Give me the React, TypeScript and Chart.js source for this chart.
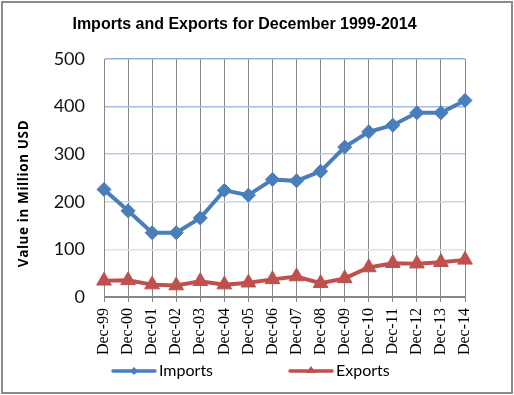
import React, { useEffect, useRef } from "react";
import { Chart, registerables } from "chart.js";

Chart.register(...registerables);

const categories = [
  "Dec-99", "Dec-00", "Dec-01", "Dec-02", "Dec-03", "Dec-04", "Dec-05", "Dec-06",
  "Dec-07", "Dec-08", "Dec-09", "Dec-10", "Dec-11", "Dec-12", "Dec-13", "Dec-14",
];
const importsValues = [226, 181, 135, 135, 166, 224, 214, 247, 244, 264, 315, 347, 361, 387, 387, 413];
const exportsValues = [34, 35, 26, 24, 33, 26, 30, 37, 43, 29, 39, 62, 71, 70, 73, 78];
const seriesNames = ["Imports", "Exports"];
const yMin = 0;
const yMax = 500;
const yStep = 100;
const chartTitle = "Imports and Exports for December 1999-2014";
const yAxisTitle = "Value in Million USD";

const IMPORT_COLOR = "#4a7ebb";
const EXPORT_COLOR = "#c0504d";
const GRID_GRAY = "#868686";

const gridBlue: Record<number, string> = {
  0: GRID_GRAY,
  100: "#d9e3f1",
  200: "#c6d6ec",
  300: "#b5c9e7",
  400: "#a3bce2",
  500: "#94b1dc",
};

const decorPlugin = {
  id: "decor",
  beforeDraw(chart: any) {
    const ctx = chart.ctx;
    ctx.save();
    ctx.fillStyle = "#ffffff";
    ctx.fillRect(0, 0, chart.width, chart.height);
    ctx.restore();
  },
  afterDraw(chart: any) {
    const ctx = chart.ctx;
    ctx.save();
    // outer border
    ctx.strokeStyle = "#8a8a8a";
    ctx.lineWidth = 2;
    ctx.strokeRect(2, 2, chart.width - 4, chart.height - 4);

    // chart title
    ctx.fillStyle = "#000000";
    ctx.font = "bold 16px 'Liberation Sans', Arial, sans-serif";
    ctx.textAlign = "center";
    ctx.textBaseline = "middle";
    ctx.fillText(chartTitle, 244.5, 25);

    // y-axis title
    ctx.save();
    ctx.translate(24.5, 193.5);
    ctx.rotate(-Math.PI / 2);
    ctx.font = "bold 13.5px 'Open Sans', Lato, sans-serif";
    try {
      (ctx as any).letterSpacing = "0.6px";
    } catch (e) {
      /* ignore */
    }
    ctx.fillText(yAxisTitle, 0, 0);
    try {
      (ctx as any).letterSpacing = "0px";
    } catch (e) {
      /* ignore */
    }
    ctx.restore();

    // legend
    const items = [
      { name: seriesNames[0], color: IMPORT_COLOR, x0: 113, style: "diamond" },
      { name: seriesNames[1], color: EXPORT_COLOR, x0: 290, style: "triangle" },
    ];
    const ly = 371;
    items.forEach((it) => {
      ctx.strokeStyle = it.color;
      ctx.fillStyle = it.color;
      ctx.lineWidth = 3.5;
      ctx.lineCap = "round";
      ctx.beginPath();
      ctx.moveTo(it.x0, ly);
      ctx.lineTo(it.x0 + 42, ly);
      ctx.stroke();
      const cx = it.x0 + 21;
      ctx.beginPath();
      if (it.style === "diamond") {
        const r = 4;
        ctx.moveTo(cx, ly - r);
        ctx.lineTo(cx + r, ly);
        ctx.lineTo(cx, ly + r);
        ctx.lineTo(cx - r, ly);
      } else {
        const r = 5;
        ctx.moveTo(cx, ly - r);
        ctx.lineTo(cx + r, ly + 2);
        ctx.lineTo(cx - r, ly + 2);
      }
      ctx.closePath();
      ctx.fill();
      ctx.fillStyle = "#000000";
      ctx.font = "16px Lato, 'Open Sans', sans-serif";
      ctx.textAlign = "left";
      ctx.textBaseline = "middle";
      ctx.fillText(it.name, it.x0 + 46, ly);
    });
    ctx.restore();
  },
};

export default function App() {
  const canvasRef = useRef<HTMLCanvasElement | null>(null);

  useEffect(() => {
    if (!canvasRef.current) return;
    const chart = new Chart(canvasRef.current, {
      type: "line",
      data: {
        labels: categories,
        datasets: [
          {
            label: seriesNames[0],
            data: importsValues,
            borderColor: IMPORT_COLOR,
            backgroundColor: IMPORT_COLOR,
            borderWidth: 4,
            pointStyle: "rectRot",
            pointRadius: 7,
            pointBorderWidth: 1,
            pointBackgroundColor: IMPORT_COLOR,
            pointBorderColor: IMPORT_COLOR,
            tension: 0,
            clip: false as any,
          },
          {
            label: seriesNames[1],
            data: exportsValues,
            borderColor: EXPORT_COLOR,
            backgroundColor: EXPORT_COLOR,
            borderWidth: 4,
            pointStyle: "triangle",
            pointRadius: 8.5,
            pointBorderWidth: 1,
            pointBackgroundColor: EXPORT_COLOR,
            pointBorderColor: EXPORT_COLOR,
            tension: 0,
            clip: false as any,
          },
        ],
      },
      options: {
        animation: false,
        responsive: false,
        devicePixelRatio: 1,
        layout: { padding: { top: 59, left: 0, right: 49, bottom: 38 } },
        plugins: {
          legend: { display: false },
          title: { display: false },
          tooltip: { enabled: false },
        },
        scales: {
          x: {
            type: "category",
            offset: false,
            afterFit: (scale: any) => {
              scale.height = 60;
            },
            grid: {
              color: GRID_GRAY,
              lineWidth: 1,
              drawTicks: true,
              tickLength: 5,
              tickColor: GRID_GRAY,
            },
            border: { color: GRID_GRAY, width: 1 },
            ticks: {
              autoSkip: false,
              maxRotation: 90,
              minRotation: 90,
              padding: 6,
              color: "#000000",
              font: { family: "'Liberation Serif', 'Times New Roman', serif", size: 16 },
            },
          },
          y: {
            min: yMin,
            max: yMax,
            afterFit: (scale: any) => {
              scale.width = 104;
            },
            grid: {
              color: (c: any) => gridBlue[c.tick?.value] ?? "#c6d6ec",
              lineWidth: 1.5,
              drawTicks: false,
            },
            border: { color: GRID_GRAY, width: 1 },
            ticks: {
              stepSize: yStep,
              padding: 19,
              color: "#111111",
              font: { family: "Lato, 'Open Sans', sans-serif", size: 18 },
            },
          },
        },
      },
      plugins: [decorPlugin],
    });
    return () => chart.destroy();
  }, []);

  return (
    <div style={{ position: "fixed", left: 0, top: 0, width: 514, height: 395 }}>
      <canvas ref={canvasRef} width={514} height={395} style={{ display: "block" }} />
    </div>
  );
}
